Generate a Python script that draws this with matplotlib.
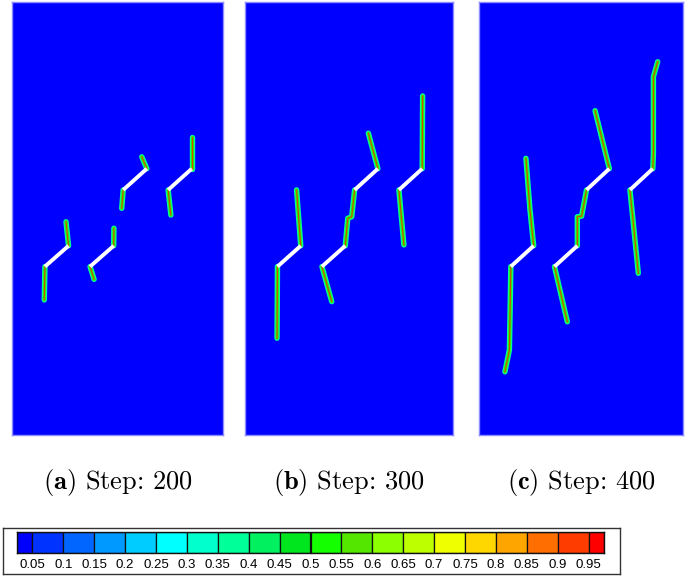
import matplotlib
matplotlib.use("Agg")
import matplotlib.pyplot as plt
from matplotlib.patches import Rectangle

plt.rcParams['mathtext.fontset'] = 'cm'
plt.rcParams['axes.unicode_minus'] = False

# ---------------- data ----------------
steps = [200, 300, 400]
panel_labels = ['a', 'b', 'c']

# pre-existing flaws (domain coordinates, width 100 x height 200)
flaw_x0 = [15.6, 37.0, 52.7, 74.0]
flaw_y0 = [77.8, 77.8, 113.2, 113.2]
flaw_x1 = [26.8, 48.2, 63.9, 85.2]
flaw_y1 = [87.4, 87.4, 123.0, 123.0]

# crack paths per step
cracks_200_x = [[15.6, 15.3], [26.8, 25.6], [37.0, 38.9], [48.2, 48.3],
                [52.7, 52.0], [63.9, 61.5], [74.0, 75.3], [85.2, 85.2]]
cracks_200_y = [[77.8, 62.4], [87.4, 98.5], [77.8, 71.9], [87.4, 95.5],
                [113.2, 104.7], [123.0, 128.5], [113.2, 101.6], [123.0, 137.8]]

cracks_300_x = [[15.6, 15.5, 15.4], [26.8, 24.8], [37.0, 41.7],
                [48.2, 49.4, 51.3, 52.7], [63.9, 59.3], [74.0, 76.4], [85.2, 85.4]]
cracks_300_y = [[77.8, 60.0, 44.7], [87.4, 113.2], [77.8, 61.6],
                [87.4, 100.1, 100.8, 113.2], [123.0, 139.4], [113.2, 87.8], [123.0, 156.6]]

cracks_400_x = [[15.6, 15.2, 14.9, 12.7], [26.8, 25.0, 23.0], [37.0, 43.3],
                [48.2, 48.2, 50.3, 52.7], [63.9, 56.9], [74.0, 78.1],
                [85.2, 85.5, 85.5, 87.6]]
cracks_400_y = [[77.8, 54.7, 39.3, 29.2], [87.4, 103.9, 127.8], [77.8, 52.3],
                [87.4, 100.8, 101.1, 113.2], [123.0, 149.8], [113.2, 74.7],
                [123.0, 130.0, 165.5, 172.4]]

cracks_x = [cracks_200_x, cracks_300_x, cracks_400_x]
cracks_y = [cracks_200_y, cracks_300_y, cracks_400_y]

# colour bar levels
cbar_levels = [0.05, 0.1, 0.15, 0.2, 0.25, 0.3, 0.35, 0.4, 0.45, 0.5,
               0.55, 0.6, 0.65, 0.7, 0.75, 0.8, 0.85, 0.9, 0.95]
cbar_labels = ['0.05', '0.1', '0.15', '0.2', '0.25', '0.3', '0.35', '0.4', '0.45', '0.5',
               '0.55', '0.6', '0.65', '0.7', '0.75', '0.8', '0.85', '0.9', '0.95']
cbar_colors = ['#0000ff', '#0033ff', '#0066ff', '#0099ff', '#00ccff', '#00ffff',
               '#00ffcc', '#00ff99', '#00f060', '#00e61e', '#14ff00', '#55e600',
               '#8cff00', '#beff00', '#f0ff00', '#ffd700', '#ffa500', '#ff6e00',
               '#ff3c00', '#ff0000']

# ---------------- figure ----------------
W, H = 685, 577
fig = plt.figure(figsize=(W / 100, H / 100), dpi=100)

panel_left = [12, 245, 479]
panel_width = [211, 208, 204]
panel_top, panel_bottom = 2, 435


def fr(x0, y0, x1, y1):
    return [x0 / W, 1 - y1 / H, (x1 - x0) / W, (y1 - y0) / H]


for i in range(3):
    ax = fig.add_axes(fr(panel_left[i], panel_top, panel_left[i] + panel_width[i], panel_bottom))
    ax.set_xlim(0, 100)
    ax.set_ylim(0, 200)
    ax.set_facecolor('#0000ff')
    ax.set_xticks([])
    ax.set_yticks([])
    for s in ax.spines.values():
        s.set_color('#8c8cff')
        s.set_linewidth(1.0)
    for xs, ys in zip(cracks_x[i], cracks_y[i]):
        ax.plot(xs, ys, color='#00ff99', lw=3.9, solid_capstyle='round',
                solid_joinstyle='round', zorder=2)
        ax.plot(xs, ys, color='#33f000', lw=2.2, solid_capstyle='round',
                solid_joinstyle='round', zorder=3)
        ax.plot(xs, ys, color='#e83000', lw=0.8, alpha=0.85, zorder=4)
    for x0, y0, x1, y1 in zip(flaw_x0, flaw_y0, flaw_x1, flaw_y1):
        ax.plot([x0, x1], [y0, y1], color='white', lw=2.8, solid_capstyle='butt', zorder=5)
    cx = (panel_left[i] + panel_width[i] / 2) / W
    fig.text(cx, 1 - 483 / H,
             r'$\mathbf{(%s)}$ Step: %d' % (panel_labels[i], steps[i]),
             ha='center', va='center', fontsize=19, family='cmr10')

# colour bar frame
axf = fig.add_axes(fr(3, 528, 620, 574))
axf.set_xticks([])
axf.set_yticks([])
for s in axf.spines.values():
    s.set_color('#333333')
    s.set_linewidth(1.0)

# colour bar strip
axc = fig.add_axes(fr(17, 532, 604, 553))
lo = cbar_levels[0] - 0.025
hi = cbar_levels[-1] + 0.025
edges = [lo] + cbar_levels + [hi]
for k in range(len(cbar_colors)):
    axc.add_patch(Rectangle((edges[k], 0), edges[k + 1] - edges[k], 1,
                            facecolor=cbar_colors[k], edgecolor='#111111', lw=0.9))
axc.set_xlim(lo, hi)
axc.set_ylim(0, 1)
axc.set_yticks([])
axc.set_xticks(cbar_levels)
axc.set_xticklabels(cbar_labels, family='Liberation Sans', fontsize=9.5)
axc.tick_params(axis='x', length=0, pad=4)
for s in axc.spines.values():
    s.set_linewidth(1.0)
    s.set_color('#111111')

fig.savefig('out.png', dpi=100)
